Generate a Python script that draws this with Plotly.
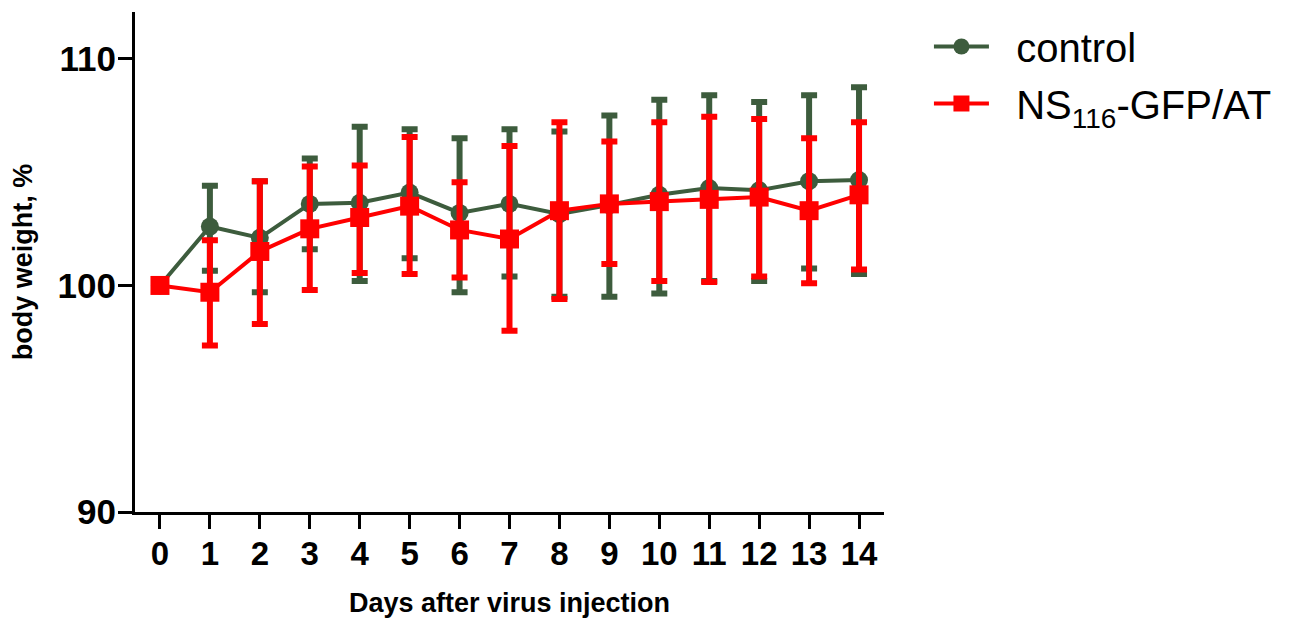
import plotly.graph_objects as go

days = list(range(15))
tick_labels = [str(d) for d in days]

control_mean = [100, 102.6, 102.1, 103.6, 103.65, 104.1, 103.2, 103.6, 103.15, 103.55, 104.0, 104.3, 104.2, 104.6, 104.65]
control_upper = [100, 104.4, 104.6, 105.6, 107.0, 106.9, 106.5, 106.9, 106.8, 107.5, 108.2, 108.4, 108.1, 108.4, 108.75]
control_lower = [100, 100.65, 99.7, 101.6, 100.2, 101.2, 99.7, 100.4, 99.5, 99.5, 99.65, 100.2, 100.2, 100.75, 100.5]

ns_mean = [100, 99.7, 101.5, 102.5, 103.0, 103.5, 102.45, 102.05, 103.3, 103.6, 103.7, 103.8, 103.9, 103.3, 104.0]
ns_upper = [100, 102.0, 104.6, 105.25, 105.3, 106.55, 104.55, 106.15, 107.2, 106.35, 107.2, 107.45, 107.35, 106.5, 107.2]
ns_lower = [100, 97.35, 98.3, 99.8, 100.55, 100.5, 100.35, 98.0, 99.4, 100.95, 100.2, 100.15, 100.4, 100.1, 100.7]

GREEN = "#3d5c3d"
RED = "#ff0000"
FONT = "Liberation Sans"
GAP = "\u00a0\u00a0"

def plus(mean, upper):
    return [u - m for m, u in zip(mean, upper)]

def minus(mean, lower):
    return [m - l for m, l in zip(mean, lower)]

fig = go.Figure()
fig.add_trace(go.Scatter(
    x=days, y=control_mean, name=GAP + "control", mode="lines+markers",
    legendgroup="a",
    line=dict(color=GREEN, width=4),
    marker=dict(symbol="circle", size=18, color=GREEN),
    error_y=dict(type="data", symmetric=False,
                 array=plus(control_mean, control_upper),
                 arrayminus=minus(control_mean, control_lower),
                 color=GREEN, thickness=6, width=8),
))
fig.add_trace(go.Scatter(
    x=days, y=ns_mean, name=GAP + "NS<sub>116</sub>-GFP/AT", mode="lines+markers",
    legendgroup="b",
    line=dict(color=RED, width=4),
    marker=dict(symbol="square", size=19, color=RED),
    error_y=dict(type="data", symmetric=False,
                 array=plus(ns_mean, ns_upper),
                 arrayminus=minus(ns_mean, ns_lower),
                 color=RED, thickness=6, width=8),
))

fig.update_layout(
    width=1304, height=623,
    margin=dict(l=127, r=428, t=4, b=119),
    paper_bgcolor="white", plot_bgcolor="white",
    font=dict(family=FONT, color="black"),
    showlegend=True,
    legend=dict(x=1.06, y=0.996, xanchor="left", yanchor="top",
                font=dict(family=FONT, size=40, color="black"),
                traceorder="grouped", tracegroupgap=2, itemwidth=55,
                bgcolor="rgba(0,0,0,0)"),
    xaxis=dict(
        range=[-0.5, 14.5], tickmode="array", tickvals=days, ticktext=tick_labels,
        showline=True, linecolor="black", linewidth=3,
        ticks="outside", ticklen=14, tickwidth=3, tickcolor="black",
        showgrid=False, zeroline=False, ticklabelstandoff=-4,
        tickfont=dict(family=FONT, size=33, color="black", weight="bold"),
        title=dict(text="<b>Days after virus injection</b>",
                   font=dict(family=FONT, size=27, color="black"), standoff=23),
    ),
    yaxis=dict(
        range=[90, 112.07], tickmode="array", tickvals=[90, 100, 110],
        ticktext=["90", "100", "110"],
        showline=True, linecolor="black", linewidth=3,
        ticks="outside", ticklen=14, tickwidth=3, tickcolor="black",
        showgrid=False, zeroline=False, ticklabelstandoff=-5,
        tickfont=dict(family=FONT, size=35, color="black", weight="bold"),
        title=dict(text="<b>body weight, %</b>",
                   font=dict(family=FONT, size=27, color="black"), standoff=22),
    ),
)

fig.write_html("out.html")
